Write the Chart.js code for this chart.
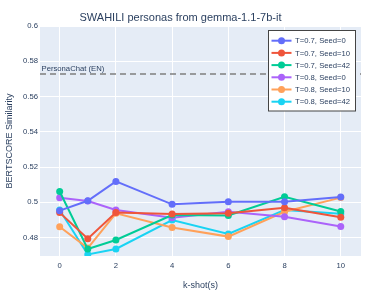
<!DOCTYPE html>
<html>
<head>
<meta charset="utf-8">
<script src="https://cdn.jsdelivr.net/npm/chart.js@4/dist/chart.umd.min.js"></script>
<style>
  html, body { margin: 0; padding: 0; background: #fff; }
  #wrap { width: 387px; height: 291px; }
</style>
</head>
<body>
<div id="wrap"><canvas id="simChart" width="387" height="291"></canvas></div>
<script>
  // k-shot values on the x axis
  var kShots = [0, 1, 2, 4, 6, 8, 10];

  var seriesNames = [
    "T=0.7, Seed=0", "T=0.7, Seed=10", "T=0.7, Seed=42",
    "T=0.8, Seed=0", "T=0.8, Seed=10", "T=0.8, Seed=42"
  ];

  var t07seed0  = [0.4953, 0.5009, 0.5119, 0.4989, 0.5004, 0.5004, 0.5030];
  var t07seed10 = [0.4942, 0.4794, 0.4943, 0.4934, 0.4938, 0.4970, 0.4916];
  var t07seed42 = [0.5062, 0.4736, 0.4787, 0.4928, 0.4926, 0.5032, 0.4948];
  var t08seed0  = [0.5026, 0.5008, 0.4957, 0.4913, 0.4947, 0.4919, 0.4863];
  var t08seed10 = [0.4862, 0.4741, 0.4938, 0.4858, 0.4806, 0.4947, 0.5027];
  var t08seed42 = [0.4957, 0.4705, 0.4736, 0.4900, 0.4821, 0.4957, 0.4935];

  var baselineName = "PersonaChat (EN)";
  var baselineValue = 0.5728;

  var yTicks = [0.48, 0.5, 0.52, 0.54, 0.56, 0.58, 0.6];
  var xTicks = [0, 2, 4, 6, 8, 10];

  var colors = ["#636EFA", "#EF553B", "#00CC96", "#AB63FA", "#FFA15A", "#19D3F3"];
  var allSeries = [t07seed0, t07seed10, t07seed42, t08seed0, t08seed10, t08seed42];

  var textColor = "#2a3f5f";
  var fontFamily = "'Liberation Sans', Arial, sans-serif";

  var datasets = allSeries.map(function (vals, i) {
    return {
      label: seriesNames[i],
      data: kShots.map(function (k, j) { return { x: k, y: vals[j] }; }),
      borderColor: colors[i],
      backgroundColor: colors[i],
      borderWidth: 2,
      pointRadius: 3.5,
      pointHoverRadius: 3.5,
      pointBorderWidth: 0,
      tension: 0
    };
  });

  datasets.push({
    label: baselineName,
    data: [{ x: -0.7, y: baselineValue }, { x: 10.72, y: baselineValue }],
    borderColor: "#7f7f7f",
    borderWidth: 1.5,
    borderDash: [6, 4],
    pointRadius: 0
  });

  var plotBg = {
    id: "plotBg",
    beforeDraw: function (chart) {
      var a = chart.chartArea, ctx = chart.ctx;
      ctx.save();
      ctx.fillStyle = "#E5ECF6";
      ctx.fillRect(a.left, a.top, a.right - a.left, a.bottom - a.top);
      ctx.restore();
    }
  };

  var extras = {
    id: "extras",
    afterDraw: function (chart) {
      var ctx = chart.ctx;
      var ys = chart.scales.y;
      var a = chart.chartArea;
      ctx.save();
      // baseline label
      ctx.font = "7.7px " + fontFamily;
      ctx.fillStyle = textColor;
      ctx.textAlign = "left";
      ctx.textBaseline = "alphabetic";
      ctx.fillText(baselineName, a.left + 1.5, ys.getPixelForValue(baselineValue) - 2.5);

      // legend box
      var lx = 268.5, ly = 30.5, lw = 87, lh = 80.5;
      ctx.fillStyle = "#ffffff";
      ctx.fillRect(lx, ly, lw, lh);
      ctx.strokeStyle = "#444444";
      ctx.lineWidth = 1;
      ctx.strokeRect(lx, ly, lw, lh);
      ctx.font = "7.7px " + fontFamily;
      ctx.textBaseline = "middle";
      for (var i = 0; i < seriesNames.length; i++) {
        var ry = 40.7 + i * 12.2;
        ctx.strokeStyle = colors[i];
        ctx.lineWidth = 2;
        ctx.beginPath();
        ctx.moveTo(271.5, ry);
        ctx.lineTo(291.5, ry);
        ctx.stroke();
        ctx.fillStyle = colors[i];
        ctx.beginPath();
        ctx.arc(281.5, ry, 3.5, 0, Math.PI * 2);
        ctx.fill();
        ctx.fillStyle = textColor;
        ctx.fillText(seriesNames[i], 295, ry + 0.5);
      }
      ctx.restore();
    }
  };

  new Chart(document.getElementById("simChart"), {
    type: "line",
    data: { datasets: datasets },
    plugins: [plotBg, extras],
    options: {
      responsive: false,
      animation: false,
      layout: { padding: { left: 0, right: 26, top: 0, bottom: 0 } },
      plugins: {
        legend: { display: false },
        tooltip: { enabled: false },
        title: {
          display: true,
          text: "SWAHILI personas from gemma-1.1-7b-it",
          color: textColor,
          font: { family: fontFamily, size: 11, weight: "normal", lineHeight: 1.2 },
          padding: { top: 11, bottom: 1.8 }
        }
      },
      scales: {
        x: {
          type: "linear",
          min: -0.7,
          max: 10.72,
          afterBuildTicks: function (scale) {
            scale.ticks = xTicks.map(function (v) { return { value: v }; });
          },
          afterFit: function (scale) { scale.height = 35; },
          grid: { color: "#ffffff", lineWidth: 1, drawTicks: false },
          border: { display: false },
          ticks: {
            color: textColor,
            font: { family: fontFamily, size: 7.7 },
            padding: 5,
            maxRotation: 0
          },
          title: {
            display: true,
            text: "k-shot(s)",
            color: textColor,
            font: { family: fontFamily, size: 9 },
            padding: { top: 5, bottom: 0 }
          }
        },
        y: {
          min: 0.4696,
          max: 0.6,
          afterBuildTicks: function (scale) {
            scale.ticks = yTicks.map(function (v) { return { value: v }; });
          },
          afterFit: function (scale) { scale.width = 40; },
          grid: { color: "#ffffff", lineWidth: 1, drawTicks: false },
          border: { display: false },
          ticks: {
            color: textColor,
            font: { family: fontFamily, size: 7.7 },
            padding: 2,
            callback: function (v) { return String(Math.round(v * 100) / 100); }
          },
          title: {
            display: true,
            text: "BERTSCORE Similarity",
            color: textColor,
            font: { family: fontFamily, size: 9 },
            padding: { top: 4, bottom: 2 }
          }
        }
      }
    }
  });
</script>
</body>
</html>
